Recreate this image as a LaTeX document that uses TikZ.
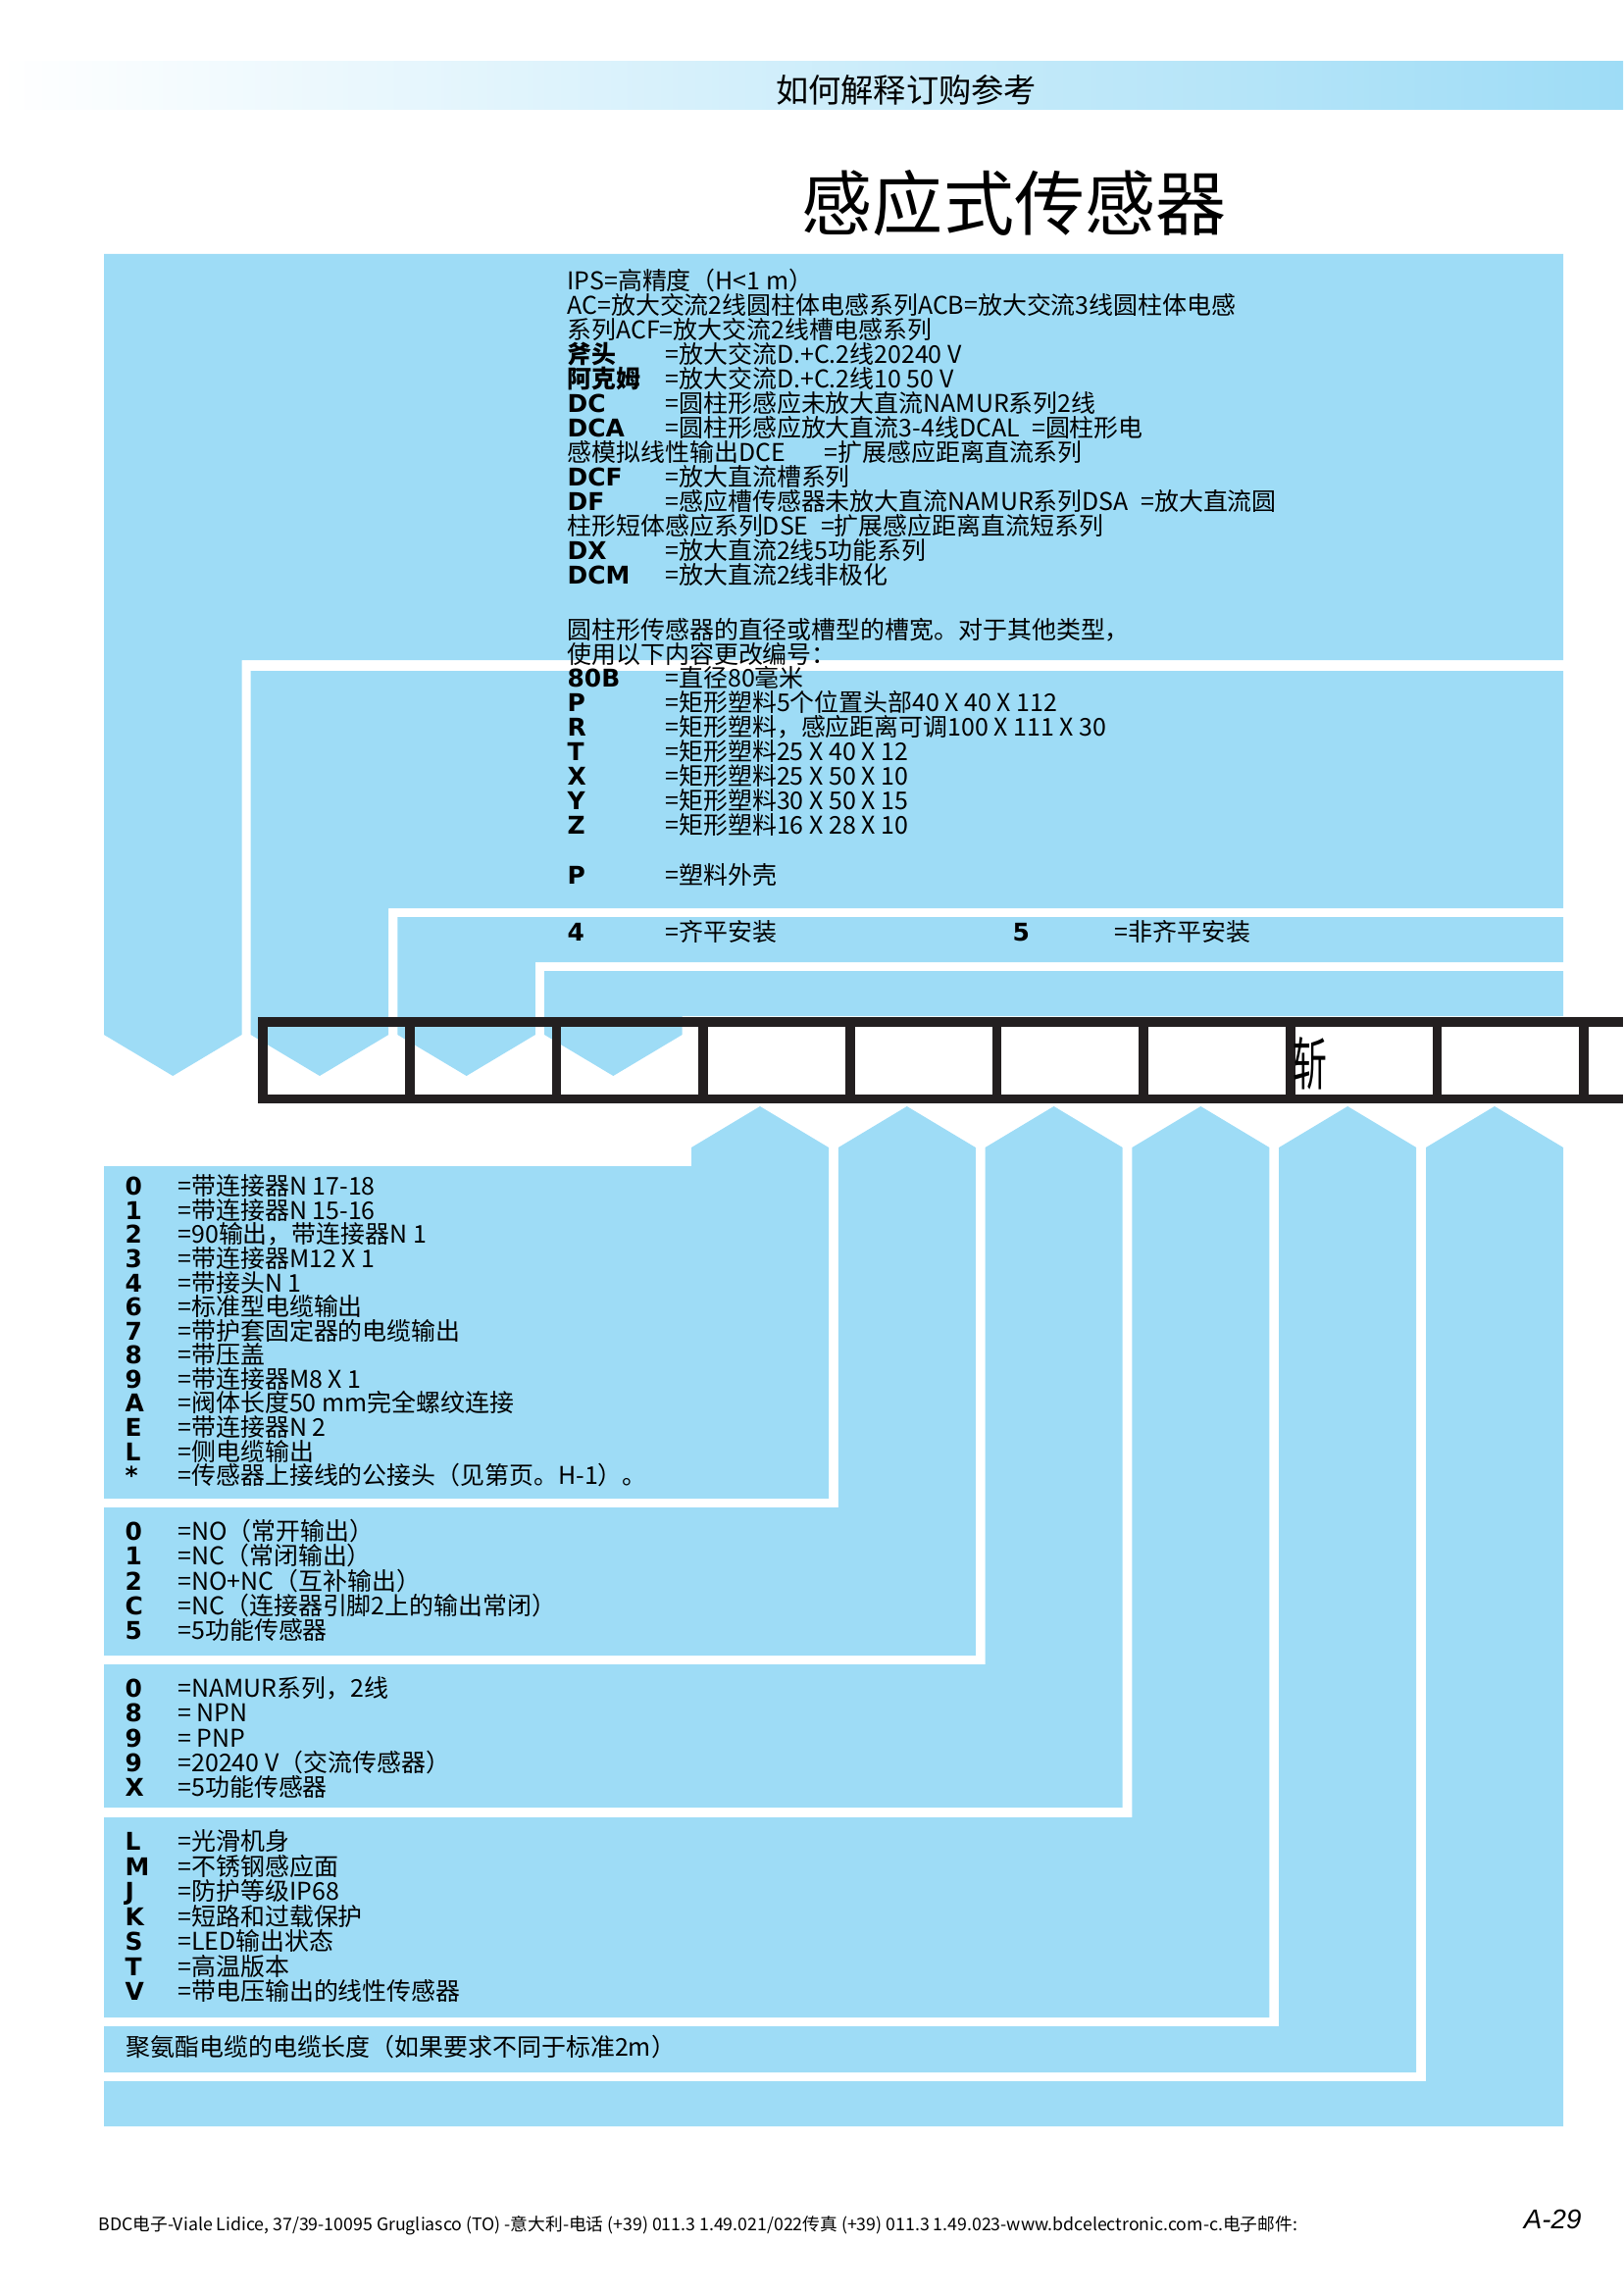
\documentclass[tikz,border=0pt]{standalone}
\usepackage{fontspec}
\setmainfont{Noto Sans CJK SC}
\newfontfamily\codefont{DejaVu Sans}
\newfontfamily\pagefont{Liberation Sans}
\usetikzlibrary{positioning}
\definecolor{panelblue}{RGB}{158,220,246}
\definecolor{inkblack}{RGB}{35,31,32}

\begin{document}
\begin{tikzpicture}[
    x=0.126888mm, y=-0.126888mm,
    band/.style={fill=panelblue},
    gridline/.style={draw=inkblack, line width=3.5pt},
    code/.style={anchor=west, inner sep=0pt, text height=8pt, text depth=1.7pt, font=\codefont\bfseries\fontsize{9}{9}\selectfont},
    cjkcode/.style={code, font=\bfseries\fontsize{9}{9}\selectfont},
    desc/.style={anchor=west, inner sep=0pt, text height=8pt, text depth=1.7pt, font=\fontsize{9}{9}\selectfont},
  ]
  \useasboundingbox (0,0) rectangle (1655,2339);
  % --- 页眉 ---
  \shade[left color=white, right color=panelblue] (0,63) rectangle (1655,112);
  \node[font=\fontsize{12}{12}\selectfont] (header) at (924,92) {如何解释订购参考};
  \node[font=\fontsize{26}{26}\selectfont] (title) at (1034,207) {感应式传感器};
  % --- 上方色块（向下箭头）---
  \foreach \k/\top/\bot in {0/259/673, 1/684/926, 2/935/981, 3/990/1036} {
    \pgfmathsetmacro\xl{106+149.7*\k}
    \fill[band] (\xl,\top) -- (1594,\top) -- (1594,\bot) -- (\xl+140.5,\bot) -- (\xl+140.5,1055)
      -- (\xl+70.25,1097) -- (\xl,1055) -- cycle;
  }
  % --- 下方色块（向上箭头）---
  \foreach \k/\top/\bot in {0/1189/1528, 1/1537/1688, 2/1697/1843, 3/1853/2057, 4/2066/2113, 5/2122/2168} {
    \pgfmathsetmacro\xl{705+149.8*\k}
    \fill[band] (106,\top) -- (\xl,\top) -- (\xl,1170) -- (\xl+70,1128) -- (\xl+140,1170)
      -- (\xl+140,\bot) -- (106,\bot) -- cycle;
  }
  % --- 系列 ---
  \node[desc] (ips) at (578,287) {IPS=高精度（H<1 m）};
  \node[desc] (acb) at (578,312) {AC=放大交流2线圆柱体电感系列ACB=放大交流3线圆柱体电感};
  \node[desc] (acf) at (578,337) {系列ACF=放大交流2线槽电感系列};
  \node[cjkcode] (cAxe) at (578,362) {斧头};
  \node[desc] (dAxe) at (678,362) {=放大交流D.+C.2线20240 V};
  \node[cjkcode] (cAcm) at (578,387) {阿克姆};
  \node[desc] (dAcm) at (678,387) {=放大交流D.+C.2线10 50 V};
  \node[code] (cDC) at (578,412) {DC};
  \node[desc] (dDC) at (678,412) {=圆柱形感应未放大直流NAMUR系列2线};
  \node[code] (cDCA) at (578,437) {DCA};
  \node[desc] (dDCA) at (678,437) {=圆柱形感应放大直流3-4线DCAL\enspace =圆柱形电};
  \node[desc] (dDCE) at (578,462) {感模拟线性输出DCE\hspace{1.6em}=扩展感应距离直流系列};
  \node[code] (cDCF) at (578,487) {DCF};
  \node[desc] (dDCF) at (678,487) {=放大直流槽系列};
  \node[code] (cDF) at (578,512) {DF};
  \node[desc] (dDF) at (678,512) {=感应槽传感器未放大直流NAMUR系列DSA\enspace =放大直流圆};
  \node[desc] (dDSE) at (578,537) {柱形短体感应系列DSE\enspace =扩展感应距离直流短系列};
  \node[code] (cDX) at (578,562) {DX};
  \node[desc] (dDX) at (678,562) {=放大直流2线5功能系列};
  \node[code] (cDCM) at (578,587) {DCM};
  \node[desc] (dDCM) at (678,587) {=放大直流2线非极化};
  \node[desc] (size1) at (578,643) {圆柱形传感器的直径或槽型的槽宽。对于其他类型，};
  \node[desc] (size2) at (578,668) {使用以下内容更改编号：};
  % --- 尺寸 / 外壳 ---
  \foreach \c/\t [count=\i] in {80B/=直径80毫米, P/=矩形塑料5个位置头部40 X 40 X 112,
      R/=矩形塑料，感应距离可调100 X 111 X 30, T/=矩形塑料25 X 40 X 12,
      X/=矩形塑料25 X 50 X 10, Y/=矩形塑料30 X 50 X 15, Z/=矩形塑料16 X 28 X 10} {
    \node[code] (cs\i) at (578,{692+25*(\i-1)}) {\c};
    \node[desc] (ds\i) at (678,{692+25*(\i-1)}) {\t};
  }
  \node[code] (cP) at (578,893) {P};
  \node[desc] (dP) at (678,893) {=塑料外壳};
  % --- 安装 ---
  \node[code] (c4) at (578,951) {4};
  \node[desc] (d4) at (678,951) {=齐平安装};
  \node[code] (c5) at (1032,951) {5};
  \node[desc] (d5) at (1136,951) {=非齐平安装};
  % --- 订货号方格 ---
  \draw[gridline] (263,1042) -- (1655,1042);
  \draw[gridline] (263,1120.5) -- (1655,1120.5);
  \foreach \k in {0,...,9} \draw[gridline] (268+149.7*\k,1037) -- (268+149.7*\k,1125);
  \node[anchor=west, inner sep=0pt, xscale=0.6, font=\fontsize{21}{21}\selectfont] (mark) at (1318,1084) {斩};
  % --- 连接方式 ---
  \foreach \c/\t [count=\i] in {0/=带连接器N 17-18, 1/=带连接器N 15-16, 2/=90输出，带连接器N 1,
      3/=带连接器M12 X 1, 4/=带接头N 1, 6/=标准型电缆输出, 7/=带护套固定器的电缆输出,
      8/=带压盖, 9/=带连接器M8 X 1, A/=阀体长度50 mm完全螺纹连接, E/=带连接器N 2,
      L/=侧电缆输出, */=传感器上接线的公接头（见第页。H-1）。} {
    \node[code] (ca\i) at (127,{1210+24.58*(\i-1)}) {\c};
    \node[desc] (ta\i) at (181,{1210+24.58*(\i-1)}) {\t};
  }
  % --- 输出 ---
  \foreach \c/\t [count=\i] in {0/=NO（常开输出）, 1/=NC（常闭输出）, 2/=NO+NC（互补输出）,
      C/=NC（连接器引脚2上的输出常闭）, 5/=5功能传感器} {
    \node[code] (cb\i) at (127,{1562+25.2*(\i-1)}) {\c};
    \node[desc] (tb\i) at (181,{1562+25.2*(\i-1)}) {\t};
  }
  \foreach \c/\t [count=\i] in {0/=NAMUR系列，2线, 8/= NPN, 9/= PNP, 9/=20240 V（交流传感器）, X/=5功能传感器} {
    \node[code] (cc\i) at (127,{1722+25.2*(\i-1)}) {\c};
    \node[desc] (tc\i) at (181,{1722+25.2*(\i-1)}) {\t};
  }
  % --- 选项 ---
  \foreach \c/\t [count=\i] in {L/=光滑机身, M/=不锈钢感应面, J/=防护等级IP68, K/=短路和过载保护,
      S/=LED输出状态, T/=高温版本, V/=带电压输出的线性传感器} {
    \node[code] (cd\i) at (127,{1878+25.5*(\i-1)}) {\c};
    \node[desc] (td\i) at (181,{1878+25.5*(\i-1)}) {\t};
  }
  \node[desc] (cable) at (128,2088) {聚氨酯电缆的电缆长度（如果要求不同于标准2m）};
  % --- 页脚 ---
  \node[anchor=west, inner sep=0pt, font=\fontsize{6.4}{6.4}\selectfont] (footer) at (100,2269)
    {BDC电子-Viale Lidice, 37/39-10095 Grugliasco (TO) -意大利-电话 (+39) 011.3 1.49.021/022传真 (+39) 011.3 1.49.023-www.bdcelectronic.com-c.电子邮件:};
  \node[anchor=east, inner sep=0pt, font=\pagefont\itshape\fontsize{10}{10}\selectfont] (pageno) at (1613,2263) {A-29};
\end{tikzpicture}
\end{document}
